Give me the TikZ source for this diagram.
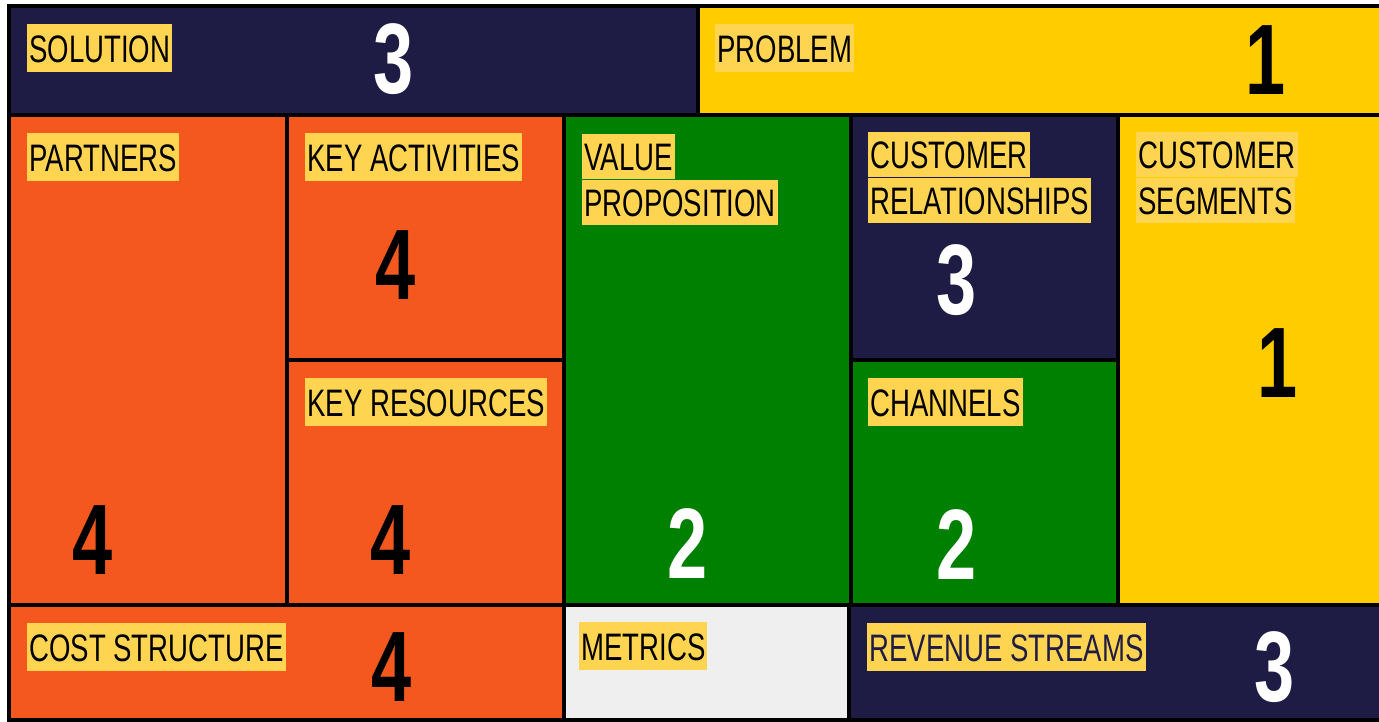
\documentclass[tikz,border=0pt]{standalone}
\usepackage{fontspec}
\setmainfont[FakeStretch=0.72]{Liberation Sans}
\usetikzlibrary{positioning}
\definecolor{navy}{RGB}{30,28,68}
\definecolor{gold}{RGB}{255,204,0}
\definecolor{rust}{RGB}{244,88,30}
\definecolor{leaf}{RGB}{0,128,0}
\definecolor{hl}{RGB}{255,212,81}
\definecolor{pale}{RGB}{239,239,239}
\tikzset{
  cell/.style={draw=black, line width=2pt},
  tag/.style={rectangle, fill=hl, anchor=north west, inner xsep=0.04cm, inner ysep=0pt, text height=0.55cm, text depth=0pt, minimum height=0.96cm, font=\fontsize{21.8}{26}\selectfont},
  tagline/.style={tag, minimum height=0.9cm},
  num/.style={font=\fontsize{57}{60}\selectfont\bfseries}
}
\begin{document}
\begin{tikzpicture}[x=0.02cm,y=-0.02cm]
	\useasboundingbox (0,0) rectangle (1379,722);
	% top row
	\filldraw[cell, fill=navy] (9,6) rectangle (698,115);
	\filldraw[cell, fill=gold] (698,6) rectangle (1390,115);
	% middle row
	\filldraw[cell, fill=rust] (9,115) rectangle (287,605);
	\filldraw[cell, fill=rust] (287,115) rectangle (564,360);
	\filldraw[cell, fill=rust] (287,360) rectangle (564,605);
	\filldraw[cell, fill=leaf] (564,115) rectangle (851,605);
	\filldraw[cell, fill=navy] (851,115) rectangle (1118,360);
	\filldraw[cell, fill=leaf] (851,360) rectangle (1118,605);
	\filldraw[cell, fill=gold] (1118,115) rectangle (1390,605);
	% bottom row
	\filldraw[cell, fill=rust] (9,605) rectangle (564,720);
	\filldraw[cell, fill=pale] (564,605) rectangle (849,720);
	\filldraw[cell, fill=navy] (849,605) rectangle (1390,720);
	%
	\node[tag] (sol) at (27,24) {SOLUTION};
	\node[tag] (prob) at (715,24) {PROBLEM};
	\node[tag] (part) at (27,133) {PARTNERS};
	\node[tag] (kact) at (305,133) {KEY ACTIVITIES};
	\node[tag] (kres) at (305,378) {KEY RESOURCES};
	\node[tagline] (val1) at (582,134) {VALUE};
	\node[tagline, below right=0pt of val1.south west] (val2) {PROPOSITION};
	\node[tagline] (rel1) at (868,132) {CUSTOMER};
	\node[tagline, below right=0pt of rel1.south west] (rel2) {RELATIONSHIPS};
	\node[tag] (chan) at (868,378) {CHANNELS};
	\node[tagline] (seg1) at (1136,132) {CUSTOMER};
	\node[tagline, below right=0pt of seg1.south west] (seg2) {SEGMENTS};
	\node[tag] (cost) at (27,623) {COST STRUCTURE};
	\node[tag] (metr) at (579,622) {METRICS};
	\node[tag, text=navy] (rev) at (867,623) {REVENUE STREAMS};
	%
	\node[num, text=white] (nsol) at (394,59) {3};
	\node[num] (nprob) at (1266,60) {1};
	\node[num] (npart) at (93,540) {4};
	\node[num] (nkact) at (396,265) {4};
	\node[num] (nkres) at (391,540) {4};
	\node[num, text=white] (nval) at (688,544) {2};
	\node[num, text=white] (nrel) at (957,280) {3};
	\node[num, text=white] (nchan) at (957,545) {2};
	\node[num] (nseg) at (1278,363) {1};
	\node[num] (ncost) at (392,667) {4};
	\node[num, text=white] (nrev) at (1275,667) {3};
\end{tikzpicture}
\end{document}
